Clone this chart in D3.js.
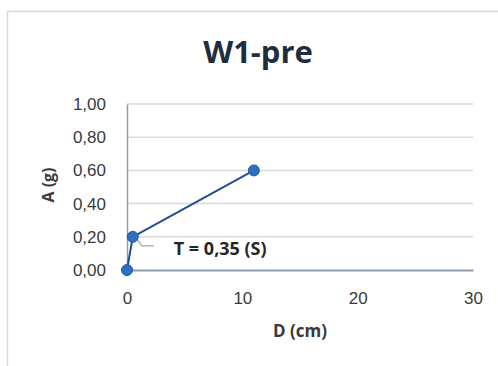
<!DOCTYPE html>
<html>
<head>
<meta charset="utf-8">
<script src="https://cdn.jsdelivr.net/npm/d3@7"></script>
<style>
  body { margin: 0; background: #fff; }
  svg { display: block; font-family: "Open Sans", "Liberation Sans", sans-serif; }
</style>
</head>
<body>
<div id="chart"></div>
<script>
// data
const xValues = [0, 0.5, 11];
const yValues = [0, 0.2, 0.6];
const xTicks = [0, 10, 20, 30];
const yTicks = [0, 0.2, 0.4, 0.6, 0.8, 1.0];
const pointLabel = "T = 0,35 (S)";

const width = 498, height = 366;
const margin = { top: 104, right: 25, bottom: 96, left: 127 };

const svg = d3.select("#chart").append("svg")
  .attr("width", width)
  .attr("height", height);

//chart frame (only top and left edges visible)
svg.append("path")
  .attr("d", "M7.5,366 V11.5 H498")
  .attr("fill", "none")
  .attr("stroke", "#d9d9d9")
  .attr("stroke-width", 1.5);

const x = d3.scaleLinear().domain([0, 30]).range([margin.left, width - margin.right]);
const y = d3.scaleLinear().domain([0, 1]).range([height - margin.bottom, margin.top]);

const fmt = (d) => d3.format(".2f")(d).replace(".", ",");

//gridlines
svg.append("g")
  .selectAll("line")
  .data(yTicks.slice(1))
  .enter()
  .append("line")
  .attr("x1", x(0))
  .attr("x2", x(30))
  .attr("y1", (d) => y(d))
  .attr("y2", (d) => y(d))
  .attr("stroke", "#d9d9d9")
  .attr("stroke-width", 1.5);

//y axis
const yAxis = svg.append("g")
  .attr("transform", `translate(${x(0)},0)`)
  .call(d3.axisLeft(y).tickValues(yTicks).tickFormat(fmt).tickSize(0).tickPadding(21));
yAxis.select(".domain").attr("stroke", "#8c9ab0").attr("stroke-width", 1.5);
yAxis.selectAll("text").attr("font-size", 17).attr("fill", "#3a3a3a");

//x axis
const xAxis = svg.append("g")
  .attr("transform", `translate(0,${y(0)})`)
  .call(d3.axisBottom(x).tickValues(xTicks).tickFormat(d3.format("d")).tickSize(0).tickPadding(22));
xAxis.select(".domain").attr("stroke", "#8c9ab0").attr("stroke-width", 2);
xAxis.selectAll("text").attr("font-size", 17).attr("fill", "#3a3a3a");

//title
svg.append("text")
  .attr("x", 258)
  .attr("y", 63)
  .attr("text-anchor", "middle")
  .attr("font-size", 31)
  .attr("font-weight", "bold")
  .attr("fill", "#1f2d3f")
  .text("W1-pre");

//axis titles
svg.append("text")
  .attr("transform", `translate(54,${y(0.5) - 2}) rotate(-90)`)
  .attr("text-anchor", "middle")
  .attr("font-size", 16)
  .attr("font-weight", "bold")
  .attr("fill", "#3a3a3a")
  .text("A (g)");

svg.append("text")
  .attr("x", 300)
  .attr("y", 337)
  .attr("text-anchor", "middle")
  .attr("font-size", 17)
  .attr("font-weight", "bold")
  .attr("fill", "#3a3a3a")
  .text("D (cm)");

const data = xValues.map((v, i) => ({ x: v, y: yValues[i] }));

//line
svg.append("path")
  .datum(data)
  .attr("fill", "none")
  .attr("stroke", "#1f4e96")
  .attr("stroke-width", 2)
  .attr("d", d3.line().x((d) => x(d.x)).y((d) => y(d.y)));

//leader line for the label
const lp = data[1];
svg.append("polyline")
  .attr("points", [
    [x(lp.x) + 4, y(lp.y) + 2],
    [x(lp.x) + 9, y(lp.y) + 9],
    [x(lp.x) + 21, y(lp.y) + 9]
  ].join(" "))
  .attr("fill", "none")
  .attr("stroke", "#a6a6a6")
  .attr("stroke-width", 1.2);

//markers
svg.append("g")
  .selectAll("circle")
  .data(data)
  .enter()
  .append("circle")
  .attr("cx", (d) => x(d.x))
  .attr("cy", (d) => y(d.y))
  .attr("r", 5.5)
  .attr("fill", "#2e6fc0")
  .attr("stroke", "#1f5aa8")
  .attr("stroke-width", 1);

//data label
svg.append("text")
  .attr("x", x(lp.x) + 41)
  .attr("y", y(lp.y) + 18)
  .attr("font-size", 18)
  .attr("font-weight", "bold")
  .attr("fill", "#262626")
  .text(pointLabel);
</script>
</body>
</html>
